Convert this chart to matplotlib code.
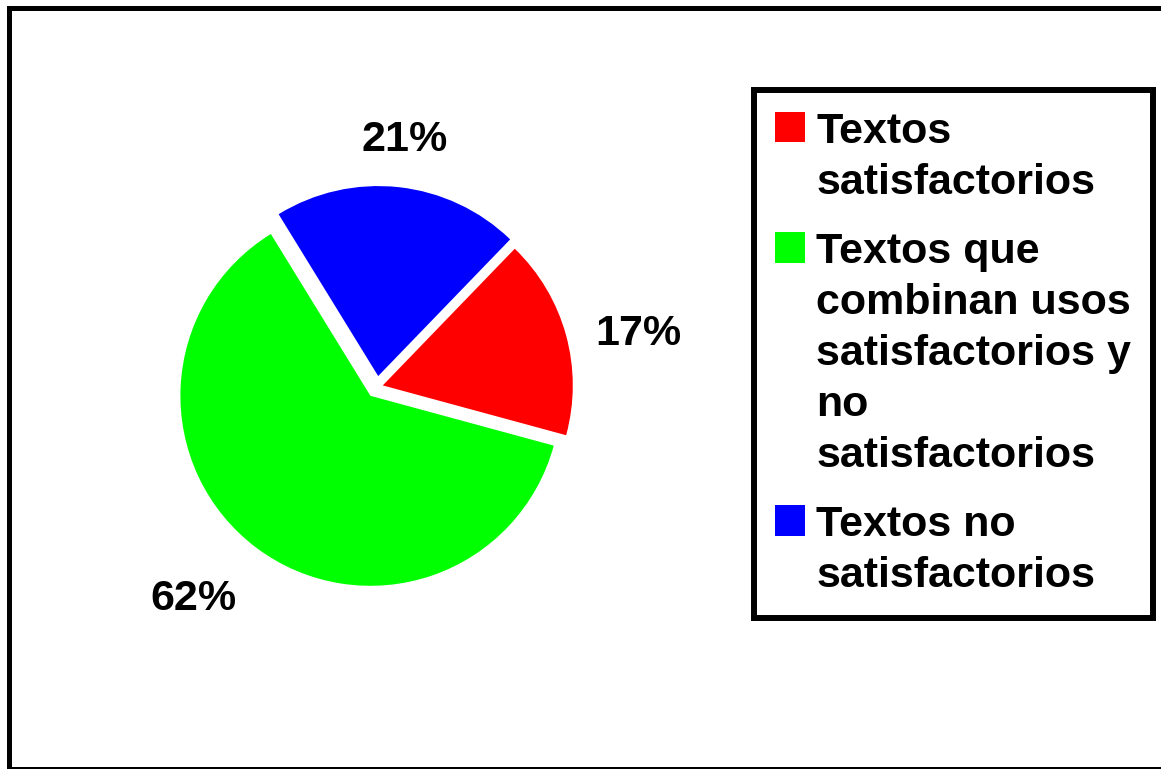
import matplotlib
matplotlib.use('Agg')
import numpy as np
import matplotlib.pyplot as plt
from matplotlib.patches import Rectangle

# data
labels = ['Textos\nsatisfactorios',
          'Textos que\ncombinan usos\nsatisfactorios y\nno\nsatisfactorios',
          'Textos no\nsatisfactorios']
values = [17, 62, 21]
colors = ['#ff0000', '#00ff00', '#0000ff']

plt.rcParams['font.family'] = 'Liberation Sans'
plt.rcParams['font.weight'] = 'bold'

W, H = 1161, 769
fig = plt.figure(figsize=(W / 100, H / 100), dpi=100)

# outer frame (right side runs off the picture)
fig.patches.append(Rectangle((8.5 / W, 1 - 768.8 / H), 1.2, (768.8 - 7.5) / H,
                             transform=fig.transFigure, fill=False,
                             edgecolor='black', linewidth=3.6))

# pie axes, 600x600 px centred on the pie centre (1 unit = 200 px)
cx, cy = 377, 387
ax = fig.add_axes([(cx - 300) / W, (H - cy - 300) / H, 600 / W, 600 / H])
wedges, _ = ax.pie(values, colors=colors, startangle=46, counterclock=False,
                   radius=0.95, explode=[0.03, 0.055, 0.055],
                   wedgeprops=dict(linewidth=0))

# percentage labels outside the slices
lab_dist = [1.307, 1.33, 1.21]
lab_turn = [-3.1, -5.0, 0.0]
for w, v, d, t in zip(wedges, values, lab_dist, lab_turn):
    th = np.deg2rad((w.theta1 + w.theta2) / 2 + t)
    x0, y0 = w.center
    ax.text(x0 + d * np.cos(th), y0 + d * np.sin(th), f'{v}%',
            ha='center', va='center_baseline', fontsize=31, fontweight='bold')
ax.set_xlim(-1.5, 1.5)
ax.set_ylim(-1.5, 1.5)
ax.set_aspect('equal')
ax.axis('off')

leg = fig.legend(wedges, labels, loc='upper left',
                 bbox_to_anchor=(753.7 / W, 1 - 90.3 / H), borderaxespad=0,
                 fontsize=31, frameon=True, fancybox=False, framealpha=1,
                 edgecolor='black', handlelength=0.7, handleheight=0.7,
                 handletextpad=0.25, borderpad=0.5, labelspacing=0.69)
leg.get_frame().set_linewidth(4.3)
for t in leg.get_texts():
    t.set_linespacing(1.35)

# put the colour box next to the first line of each label
fig.canvas.draw()
for h, t in zip(leg.legend_handles, leg.get_texts()):
    tb = t.get_window_extent()
    hb = h.get_window_extent()
    h.set_y(h.get_y() + (tb.y1 - hb.y1) * 72 / fig.dpi)

fig.savefig('out.png', dpi=100)
